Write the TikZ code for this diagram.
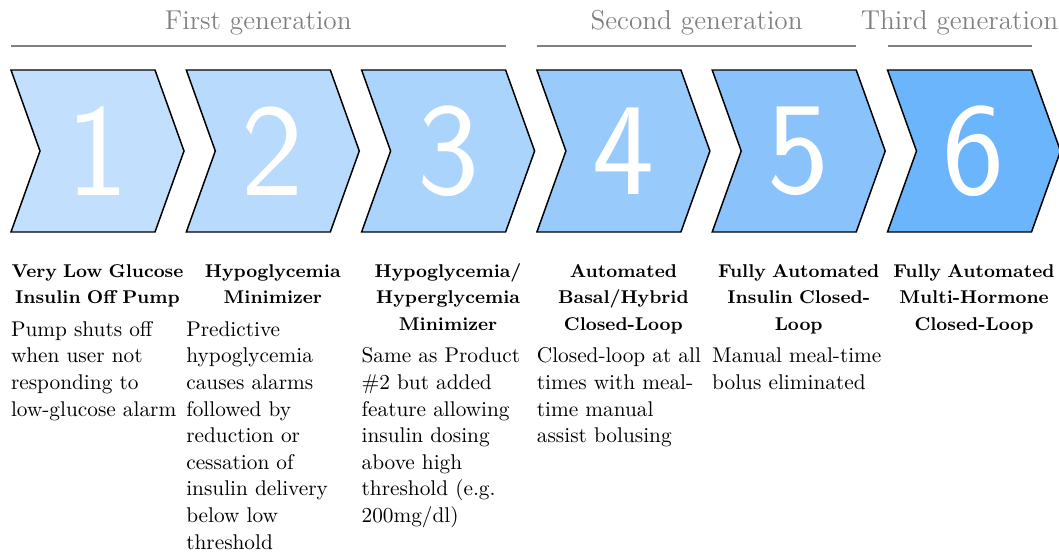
\documentclass[tikz,border=0pt]{standalone}
\usetikzlibrary{positioning}
\definecolor{step1}{RGB}{194,224,253}
\definecolor{step2}{RGB}{183,218,253}
\definecolor{step3}{RGB}{171,212,253}
\definecolor{step4}{RGB}{152,202,252}
\definecolor{step5}{RGB}{138,195,252}
\definecolor{step6}{RGB}{107,181,252}

\begin{document}
\begin{tikzpicture}[x=0.4695pt,y=-0.4695pt]
\tikzstyle{chevron}=[draw=black,line width=0.7pt,line join=miter]
\tikzstyle{numeral}=[text=white,inner sep=0pt,font=\fontsize{62}{62}\selectfont\sffamily]
\tikzstyle{heading}=[anchor=north,text width=81.2pt,align=center,inner sep=0pt,font=\fontsize{8.69}{12.5}\selectfont\bfseries,execute at begin node=\strut,execute at end node=\strut]
\tikzstyle{blurb}=[text width=81.2pt,align=left,inner sep=0pt,font=\fontsize{10}{12.5}\selectfont,execute at begin node=\strut,execute at end node=\strut]
\tikzstyle{genline}=[draw=gray,line width=0.9pt]
\tikzstyle{genlabel}=[text=gray,inner sep=0pt,font=\fontsize{12.8}{15}\selectfont]
\useasboundingbox (0,0) rectangle (1059,554);
\coordinate (genrow) at (0,46);
\coordinate (headrow) at (0,258.1);
% the six steps
\foreach \i/\x in {1/11,2/186.3,3/361.6,4/536.9,5/712.2,6/887.5}{
	\draw[chevron,fill=step\i] (\x,70) -- ++(144,0) -- ++(29,81) -- ++(-29,81) -- ++(-144,0) -- ++(29,-81) -- cycle;
	\coordinate (tl\i) at (\x,70);
	\coordinate (tr\i) at (\x+144,70);
	\node[numeral] (n\i) at (\x+86.5,151) {\i};
}
% generations
\draw[genline] (tl1 |- genrow) -- (tr3 |- genrow) node[genlabel,midway,above=4.8pt] (g1) {First generation};
\draw[genline] (tl4 |- genrow) -- (tr5 |- genrow) node[genlabel,midway,above=4.8pt] (g2) {Second generation};
\draw[genline] (tl6 |- genrow) -- (tr6 |- genrow) node[genlabel,midway,above=4.8pt] (g3) {Third generation};
% headings
\node[heading] (h1) at (n1 |- headrow) {Very Low Glucose\\Insulin Off Pump};
\node[heading] (h2) at (n2 |- headrow) {Hypoglycemia\\Minimizer};
\node[heading] (h3) at (n3 |- headrow) {Hypoglycemia/\\Hyperglycemia\\Minimizer};
\node[heading] (h4) at (n4 |- headrow) {Automated\\Basal/Hybrid\\Closed-Loop};
\node[heading] (h5) at (n5 |- headrow) {Fully Automated\\Insulin Closed-\\Loop};
\node[heading] (h6) at (n6 |- headrow) {Fully Automated\\Multi-Hormone\\Closed-Loop};
% descriptions
\node[blurb,below=2.3pt of h1] (d1) {Pump shuts off\\when user not\\responding to\\low-glucose alarm};
\node[blurb,below=2.3pt of h2] (d2) {Predictive\\hypoglycemia\\causes alarms\\followed by\\reduction or\\cessation of\\insulin delivery\\below low\\threshold};
\node[blurb,below=2.3pt of h3] (d3) {Same as Product\\\#2 but added\\feature allowing\\insulin dosing\\above high\\threshold (e.g.\\200mg/dl)};
\node[blurb,below=2.3pt of h4] (d4) {Closed-loop at all\\times with meal-\\time manual\\assist bolusing};
\node[blurb,below=2.3pt of h5] (d5) {Manual meal-time\\bolus eliminated};
\end{tikzpicture}
\end{document}
